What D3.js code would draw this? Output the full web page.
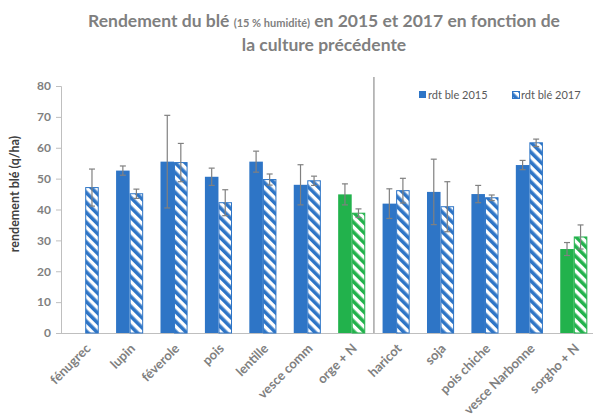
<!DOCTYPE html>
<html><head><meta charset="utf-8">
<script src="https://cdn.jsdelivr.net/npm/d3@7"></script>
<style>body{margin:0;background:#fff}svg{display:block}</style>
</head><body>
<svg id="c" width="593" height="416"></svg>
<script>
const categories = ["fénugrec","lupin","féverole","pois","lentille","vesce comm","orge + N","haricot","soja","pois chiche","vesce Narbonne","sorgho + N"];
const rdt2015 = [null,52.6,55.5,50.6,55.5,48.0,44.9,41.9,45.7,45.0,54.4,27.2];
const err2015 = [null,1.5,15,2.8,3.4,6.5,3.4,4.8,10.6,2.8,1.5,2.1];
const rdt2017 = [47.1,45.1,55.2,42.2,49.7,49.3,38.8,46.1,40.9,43.8,61.6,31.1];
const err2017 = [6.0,1.5,6.2,4.2,1.8,1.5,1.4,4.0,8.1,0.9,1.2,3.9];
const greenCats = ["orge + N","sorgho + N"];
const yTicks = [0,10,20,30,40,50,60,70,80];
const seriesNames = ["rdt ble 2015","rdt blé 2017"];

const BLUE = "#2e75c6", GREEN = "#22b24c";
const svg = d3.select("#c");
const defs = svg.append("defs");
function hatch(id, color){
  const p = defs.append("pattern").attr("id", id).attr("patternUnits","userSpaceOnUse")
    .attr("width", 7).attr("height", 7).attr("patternTransform","rotate(-45)");
  p.append("rect").attr("width",7).attr("height",7).attr("fill","#fff");
  p.append("rect").attr("width",3.6).attr("height",7).attr("fill",color);
}
hatch("hb", BLUE); hatch("hg", GREEN);

const x = d3.scaleBand().domain(categories).range([63,596]).paddingInner(0.39).paddingOuter(0.195);
const xs = d3.scaleBand().domain(["2015","2017"]).range([0, x.bandwidth()]).padding(0);
const y = d3.scaleLinear().domain([0,80]).range([333,86]);

const FONT = "Lato, 'Open Sans', sans-serif";
// title
const t = svg.append("text").attr("x", 324).attr("y", 27).attr("text-anchor","middle")
  .attr("fill","#7f7f7f").attr("font-family",FONT).attr("font-weight","bold");
t.append("tspan").attr("font-size",17.5).text("Rendement du blé ");
t.append("tspan").attr("font-size",11).text("(15 % humidité)");
t.append("tspan").attr("font-size",17.5).text(" en 2015 et 2017 en fonction de");
svg.append("text").attr("x", 324).attr("y", 51).attr("text-anchor","middle")
  .attr("fill","#7f7f7f").attr("font-family",FONT).attr("font-weight","bold")
  .attr("font-size",17.5).text("la culture précédente");

// y axis
const yAxis = svg.append("g").attr("transform","translate(61,0)")
  .call(d3.axisLeft(y).tickValues(yTicks).tickSize(5).tickPadding(5));
yAxis.select(".domain").attr("stroke","#bfbfbf");
yAxis.selectAll(".tick line").attr("stroke","#bfbfbf");
yAxis.selectAll(".tick text").attr("fill","#7f7f7f").attr("font-family",FONT)
  .attr("font-weight","bold").attr("font-size",12);

svg.append("text").attr("transform","translate(19,194) rotate(-90)").attr("text-anchor","middle")
  .attr("fill","#404040").attr("font-family",FONT).attr("font-weight","bold")
  .attr("font-size",12.5).text("rendement blé (q/ha)");

// x axis
const xAxis = svg.append("g").attr("transform","translate(0,333)")
  .call(d3.axisBottom(x).tickSize(0).tickPadding(0));
xAxis.select(".domain").remove();
svg.append("line").attr("x1",61).attr("x2",593).attr("y1",333.5).attr("y2",333.5).attr("stroke","#bfbfbf").attr("stroke-width",1.2);
xAxis.selectAll(".tick text").attr("text-anchor","end")
  .attr("transform","translate(3,13) rotate(-45)").attr("dy","0.35em")
  .attr("fill","#808080").attr("font-family",FONT).attr("font-weight","bold").attr("font-size",13);

// separator
const sepX = (x("orge + N") + x.bandwidth() + x("haricot"))/2;
svg.append("line").attr("x1",sepX).attr("x2",sepX).attr("y1",77).attr("y2",333).attr("stroke","#a6a6a6").attr("stroke-width",1.5);

// bars
const rows = categories.map((c,i)=>({c, v15:rdt2015[i], e15:err2015[i], v17:rdt2017[i], e17:err2017[i], green: greenCats.includes(c)}));
const g = svg.append("g");
rows.forEach(d=>{
  const col = d.green ? GREEN : BLUE;
  if (d.v15 != null) {
    g.append("rect").attr("x", x(d.c)+xs("2015")).attr("width", xs.bandwidth())
      .attr("y", y(d.v15)).attr("height", y(0)-y(d.v15)).attr("fill", col);
  }
  g.append("rect").attr("x", x(d.c)+xs("2017")+0.5).attr("width", xs.bandwidth()-1)
    .attr("y", y(d.v17)).attr("height", y(0)-y(d.v17)).attr("fill", d.green ? "url(#hg)" : "url(#hb)")
    .attr("stroke", col).attr("stroke-width",1);
});
// error bars
const eb = svg.append("g").attr("stroke","#808080").attr("stroke-width",1.2);
function errBar(cx, v, e){
  eb.append("line").attr("x1",cx).attr("x2",cx).attr("y1",y(v+e)).attr("y2",y(v-e));
  eb.append("line").attr("x1",cx-3).attr("x2",cx+3).attr("y1",y(v+e)).attr("y2",y(v+e));
  eb.append("line").attr("x1",cx-3).attr("x2",cx+3).attr("y1",y(v-e)).attr("y2",y(v-e));
}
rows.forEach(d=>{
  if (d.v15 != null) errBar(x(d.c)+xs("2015")+xs.bandwidth()/2, d.v15, d.e15);
  errBar(x(d.c)+xs("2017")+xs.bandwidth()/2, d.v17, d.e17);
});

// legend
const lg = svg.append("g").attr("font-family",FONT).attr("font-size",11).attr("fill","#595959");
lg.append("rect").attr("x",419).attr("y",91).attr("width",7).attr("height",7).attr("fill",BLUE);
lg.append("text").attr("x",428).attr("y",99).text(seriesNames[0]);
lg.append("rect").attr("x",512.5).attr("y",91.5).attr("width",7).attr("height",7).attr("fill","url(#hb)").attr("stroke",BLUE).attr("stroke-width",1);
lg.append("text").attr("x",521).attr("y",99).text(seriesNames[1]);
</script>
</body></html>
